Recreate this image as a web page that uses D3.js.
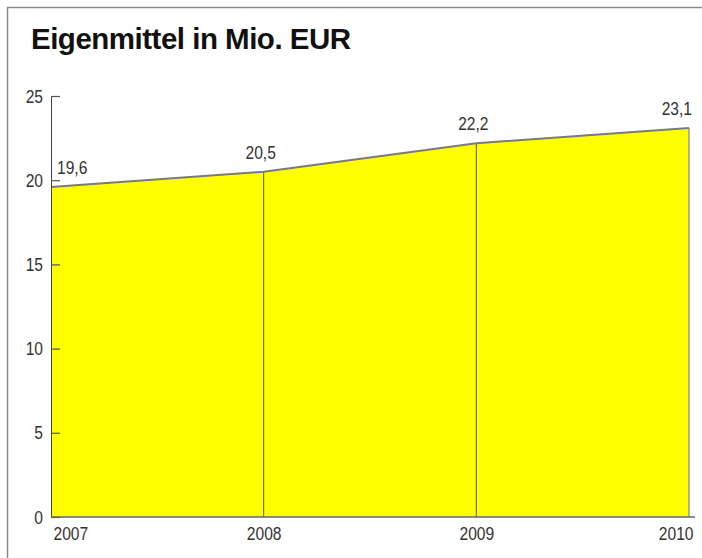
<!DOCTYPE html>
<html>
<head>
<meta charset="utf-8">
<script src="https://cdn.jsdelivr.net/npm/d3@7.9.0/dist/d3.min.js"></script>
<style>
  body { margin: 0; background: #fff; }
  svg { display: block; }
  .narrow text, text.narrow { font-family: 'Liberation Sans', Arial, sans-serif; }
</style>
</head>
<body>
<svg width="702" height="558"></svg>
<script>
// data
const years = [2007, 2008, 2009, 2010];
const values = [19.6, 20.5, 22.2, 23.1];
const valueLabels = ['19,6', '20,5', '22,2', '23,1'];
const yTicks = [0, 5, 10, 15, 20, 25];

const svg = d3.select('svg');

// squeeze text horizontally to imitate a condensed face
function condense(sel, k = 0.82) {
  sel.each(function () {
    const w = this.getComputedTextLength();
    d3.select(this)
      .attr('textLength', w * k)
      .attr('lengthAdjust', 'spacingAndGlyphs');
  });
}

// outer frame (top + left only visible)
svg.append('path')
  .attr('d', 'M7.5,558 V7.5 H702')
  .attr('fill', 'none')
  .attr('stroke', '#8a8a8a')
  .attr('stroke-width', 1.5);

// title
svg.append('text')
  .attr('x', 31)
  .attr('y', 49)
  .attr('font-family', "'Liberation Sans', Arial, sans-serif")
  .attr('font-weight', 'bold')
  .attr('font-size', 29.5)
  .attr('letter-spacing', -0.5)
  .attr('fill', '#111')
  .text('Eigenmittel in Mio. EUR');

const x = d3.scaleLinear().domain([2007, 2010]).range([51, 689]);
const y = d3.scaleLinear().domain([0, 25]).range([517, 96]);

const data = years.map((yr, i) => ({ year: yr, value: values[i], label: valueLabels[i] }));

// yellow area
const area = d3.area()
  .x(d => x(d.year))
  .y0(y(0))
  .y1(d => y(d.value));

svg.append('path')
  .datum(data)
  .attr('d', area)
  .attr('fill', '#ffff00');

// vertical separators at inner years
svg.selectAll('.sep')
  .data(data.slice(1, 3))
  .join('line')
  .attr('class', 'sep')
  .attr('x1', d => x(d.year))
  .attr('x2', d => x(d.year))
  .attr('y1', y(0))
  .attr('y2', d => y(d.value))
  .attr('stroke', '#55553a')
  .attr('stroke-width', 1);

// right edge
const last = data[data.length - 1];
svg.append('line')
  .attr('x1', x(last.year)).attr('x2', x(last.year))
  .attr('y1', y(0)).attr('y2', y(last.value))
  .attr('stroke', '#9a9a8a')
  .attr('stroke-width', 1.5);

// top line
const line = d3.line().x(d => x(d.year)).y(d => y(d.value));
svg.append('path')
  .datum(data)
  .attr('d', line)
  .attr('fill', 'none')
  .attr('stroke', '#7a7a7a')
  .attr('stroke-width', 2);

// y axis, ticks point inwards
const yAxis = d3.axisLeft(y)
  .tickValues(yTicks)
  .tickSizeInner(-9)
  .tickSizeOuter(0)
  .tickPadding(8)
  .tickFormat(d3.format('d'));

const gy = svg.append('g')
  .attr('transform', 'translate(51,0)')
  .attr('class', 'narrow')
  .call(yAxis);
gy.select('.domain').attr('stroke', '#444').attr('stroke-width', 1);
gy.selectAll('.tick line').attr('stroke', '#555').attr('stroke-width', 1.2);
gy.selectAll('.tick text')
  .attr('font-size', 19)
  .attr('fill', '#333')
  .attr('font-family', null)
  .call(condense);

// x axis baseline
svg.append('line')
  .attr('x1', 51).attr('x2', 695)
  .attr('y1', y(0)).attr('y2', y(0))
  .attr('stroke', '#666')
  .attr('stroke-width', 1.5);

// x axis labels
const xAxis = d3.axisBottom(x)
  .tickValues(years)
  .tickSize(0)
  .tickPadding(10)
  .tickFormat(d3.format('d'));

const gx = svg.append('g')
  .attr('transform', `translate(0,${y(0)})`)
  .attr('class', 'narrow')
  .call(xAxis);
gx.select('.domain').remove();
gx.selectAll('.tick text')
  .attr('font-size', 19)
  .attr('fill', '#333')
  .attr('font-family', null)
  .attr('text-anchor', (d, i) => i === 0 ? 'start' : (i === years.length - 1 ? 'end' : 'middle'))
  .attr('dx', (d, i) => i === 0 ? 2 : (i === years.length - 1 ? 4 : 0))
  .call(condense);

// value labels
svg.append('g')
  .attr('class', 'narrow')
  .selectAll('text')
  .data(data)
  .join('text')
  .attr('x', d => x(d.year))
  .attr('y', d => y(d.value) - 13)
  .attr('dx', (d, i) => i === 0 ? 6 : (i === data.length - 1 ? 3 : -3))
  .attr('text-anchor', (d, i) => i === 0 ? 'start' : (i === data.length - 1 ? 'end' : 'middle'))
  .attr('font-size', 19)
  .attr('fill', '#333')
  .text(d => d.label)
  .call(condense);
</script>
</body>
</html>
